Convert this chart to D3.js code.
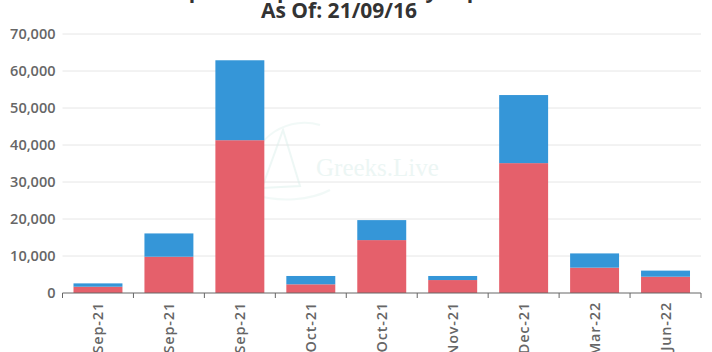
<!DOCTYPE html>
<html>
<head>
<meta charset="utf-8">
<script src="https://cdn.jsdelivr.net/npm/d3@7"></script>
<style>
  html, body { margin: 0; padding: 0; background: #fff; overflow: hidden; }
  svg { display: block; }
</style>
</head>
<body>
<svg id="chart" width="712" height="352"></svg>
<script>
const categories = ["17-Sep-21", "18-Sep-21", "24-Sep-21", "01-Oct-21", "29-Oct-21", "26-Nov-21", "31-Dec-21", "25-Mar-22", "24-Jun-22"];
const putValues  = [1700, 9800, 41300, 2350, 14300, 3500, 35100, 6850, 4400];
const callValues = [900, 6300, 21600, 2250, 5400, 1100, 18400, 3850, 1650];
const yTicks = [0, 10000, 20000, 30000, 40000, 50000, 60000, 70000];
const titleLines = ["BTC Options Open Interest By Expiration", "As Of: 21/09/16"];

const svg = d3.select("#chart");
const margin = {left: 62.5, right: 11, top: 34, bottom: 59};
const W = 712, H = 352;

const x = d3.scaleBand().domain(categories).range([margin.left, W - margin.right]).paddingInner(0.31).paddingOuter(0.155);
const y = d3.scaleLinear().domain([0, 70000]).range([H - margin.bottom, margin.top]);

// gridlines
svg.append("g").selectAll("line").data(yTicks.filter(d => d > 0)).join("line")
  .attr("x1", margin.left).attr("x2", W - margin.right)
  .attr("y1", d => y(d)).attr("y2", d => y(d))
  .attr("stroke", "#e6e6e6").attr("stroke-width", 1);

// watermark
const wm = svg.append("g").attr("opacity", 0.45);
wm.append("text").attr("x", 316).attr("y", 176)
  .attr("font-family", "Liberation Serif, serif").attr("font-size", 25)
  .attr("fill", "#d6ece8").text("Greeks.Live");
wm.append("path").attr("d", "M262,188 L283,130 L300,186 Z").attr("fill", "none").attr("stroke", "#d9eeea").attr("stroke-width", 2);
wm.append("path").attr("d", "M250,170 A55,55 0 0 1 320,125").attr("fill", "none").attr("stroke", "#e2f2ef").attr("stroke-width", 2);
wm.append("path").attr("d", "M255,195 A60,30 0 0 0 330,190").attr("fill", "none").attr("stroke", "#e2f2ef").attr("stroke-width", 2);

// bars
const stack = categories.map((c, i) => ({c, put: putValues[i], call: callValues[i]}));
svg.append("g").selectAll("rect").data(stack).join("rect")
  .attr("x", d => x(d.c)).attr("width", x.bandwidth())
  .attr("y", d => y(d.put)).attr("height", d => y(0) - y(d.put))
  .attr("fill", "#e5606b");
svg.append("g").selectAll("rect").data(stack).join("rect")
  .attr("x", d => x(d.c)).attr("width", x.bandwidth())
  .attr("y", d => y(d.put + d.call)).attr("height", d => y(d.put) - y(d.put + d.call))
  .attr("fill", "#3596d8");

// y axis
const yAxis = svg.append("g").attr("transform", `translate(${margin.left},0)`)
  .call(d3.axisLeft(y).tickValues(yTicks).tickSize(0).tickPadding(7).tickFormat(d3.format(",")));
yAxis.select(".domain").remove();
yAxis.selectAll("text").attr("font-family", "Open Sans, sans-serif").attr("font-size", 14.5)
  .attr("font-weight", 600).attr("fill", "#666");

// x axis
const xAxis = svg.append("g").attr("transform", `translate(0,${y(0)})`)
  .call(d3.axisBottom(x).tickSize(0).tickFormat(d => d));
xAxis.select(".domain").attr("stroke", "#666").attr("d", `M${margin.left},0H${W - margin.right}`);
const bounds = d3.range(categories.length + 1).map(i => margin.left + i * x.step());
xAxis.selectAll(".bt").data(bounds).join("line").attr("class", "bt")
  .attr("x1", d => d).attr("x2", d => d).attr("y1", 0).attr("y2", 5).attr("stroke", "#666");
xAxis.selectAll(".tick text")
  .attr("font-family", "Open Sans, sans-serif").attr("font-size", 14.5).attr("font-weight", 600)
  .attr("letter-spacing", "0.8px")
  .attr("fill", "#666").attr("text-anchor", "end")
  .attr("transform", "rotate(-90)").attr("x", -9).attr("y", 0).attr("dy", "0.35em");

// title
svg.append("text").attr("x", 339).attr("y", -2.5).attr("text-anchor", "middle")
  .attr("font-family", "Open Sans, sans-serif").attr("font-size", 21).attr("font-weight", 700)
  .attr("fill", "#333").text(titleLines[0]);
svg.append("text").attr("x", 339).attr("y", 17.5).attr("text-anchor", "middle")
  .attr("font-family", "Open Sans, sans-serif").attr("font-size", 21).attr("font-weight", 700)
  .attr("fill", "#333").text(titleLines[1]);
</script>
</body>
</html>
